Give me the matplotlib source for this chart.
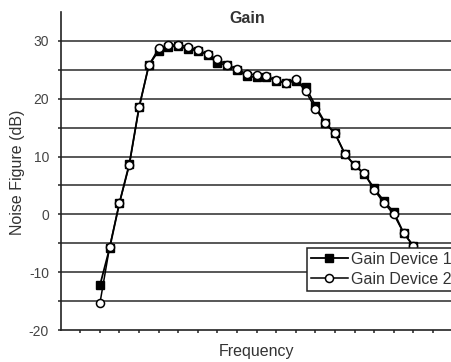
import numpy as np
import matplotlib
matplotlib.use("Agg")
import matplotlib.pyplot as plt
from matplotlib.ticker import FixedLocator, FuncFormatter

plt.rcParams['font.family'] = ['Liberation Sans', 'DejaVu Sans']

# frequency sample points (arbitrary units, one tick = 1)
freq = [2.0, 2.5, 3.0, 3.5, 4.0, 4.5, 5.0, 5.5, 6.0, 6.5, 7.0,
        7.5, 8.0, 8.5, 9.0, 9.5, 10.0, 10.5, 11.0, 11.5, 12.0, 12.5,
        13.0, 13.5, 14.0, 14.5, 15.0, 15.5, 16.0, 16.5, 17.0, 17.5, 18.0]

gain_dev1 = [-12.3, -5.8, 2.0, 8.7, 18.5, 25.8, 28.3, 29.0, 29.1, 28.6, 28.3,
             27.6, 26.2, 25.8, 25.0, 23.9, 23.7, 23.8, 23.1, 22.7, 23.1, 22.0,
             18.8, 15.8, 14.0, 10.5, 8.5, 7.0, 4.5, 2.3, 0.4, -3.2, -5.5]

gain_dev2 = [-15.4, -5.6, 2.0, 8.5, 18.5, 25.8, 28.7, 29.3, 29.3, 29.0, 28.4,
             27.7, 26.8, 25.9, 25.1, 24.3, 24.1, 23.9, 23.2, 22.8, 23.4, 21.3,
             18.3, 15.8, 14.0, 10.5, 8.5, 7.1, 4.2, 2.0, 0.0, -3.2, -5.4]

text_col = '#333333'

fig = plt.figure(figsize=(4.52, 3.62), dpi=100)
# plot area runs past the right edge, like the cropped original
ax = fig.add_axes([60.7 / 452, 32 / 362, 431 / 452, 318 / 362])

ax.set_xlim(0, 22)
ax.set_ylim(-20, 35)

# horizontal grid every 5 dB
for y in range(-15, 31, 5):
    ax.axhline(y, color='#2a2a2a', lw=1.1, zorder=1)

ax.plot(freq, gain_dev1, color='black', lw=1.3, marker='s', markersize=6.3,
        markerfacecolor='black', markeredgecolor='black', label='Gain Device 1', zorder=3)
ax.plot(freq, gain_dev2, color='black', lw=1.1, marker='o', markersize=5.8,
        markerfacecolor='white', markeredgecolor='black', markeredgewidth=1.1,
        label='Gain Device 2', zorder=4)

for side in ['top', 'right']:
    ax.spines[side].set_visible(False)
for side in ['left', 'bottom']:
    ax.spines[side].set_color('#222222')
    ax.spines[side].set_linewidth(1.2)

ax.yaxis.set_major_locator(FixedLocator(list(range(-20, 31, 5))))
ax.yaxis.set_major_formatter(FuncFormatter(lambda v, p: '%d' % v if v % 10 == 0 else ''))
ax.xaxis.set_major_locator(FixedLocator(list(range(1, 22))))
ax.set_xticklabels([])
ax.tick_params(axis='y', length=2.5, width=1.1, pad=6, labelsize=10, labelcolor='#444444', color='#222222')
ax.tick_params(axis='x', length=2.5, width=1.1, color='#222222')

ax.text(0.432, 0.981, 'Gain', transform=ax.transAxes, ha='center', va='center',
        fontsize=11.5, fontweight='bold', color=text_col)

ax.set_xlabel('Frequency', fontsize=11.5, color=text_col)
ax.xaxis.label.set_va('center')
ax.xaxis.set_label_coords(0.454, -0.069)
ax.set_ylabel('Noise Figure (dB)', fontsize=11.5, color=text_col)
ax.yaxis.label.set_va('center')
ax.yaxis.set_label_coords(-0.101, 0.495)

leg = ax.legend(loc='upper left', bbox_to_anchor=((307 - 60.7) / 431, (330 - 248) / 318),
                fontsize=11.5, frameon=True, fancybox=False, framealpha=1,
                borderaxespad=0, borderpad=0.25, handlelength=2.3, handletextpad=0.2,
                labelspacing=0.3)
leg.get_frame().set_edgecolor('#222222')
leg.get_frame().set_linewidth(1.1)
for t in leg.get_texts():
    t.set_color(text_col)
leg.set_zorder(5)

fig.savefig('out.png', dpi=100)
